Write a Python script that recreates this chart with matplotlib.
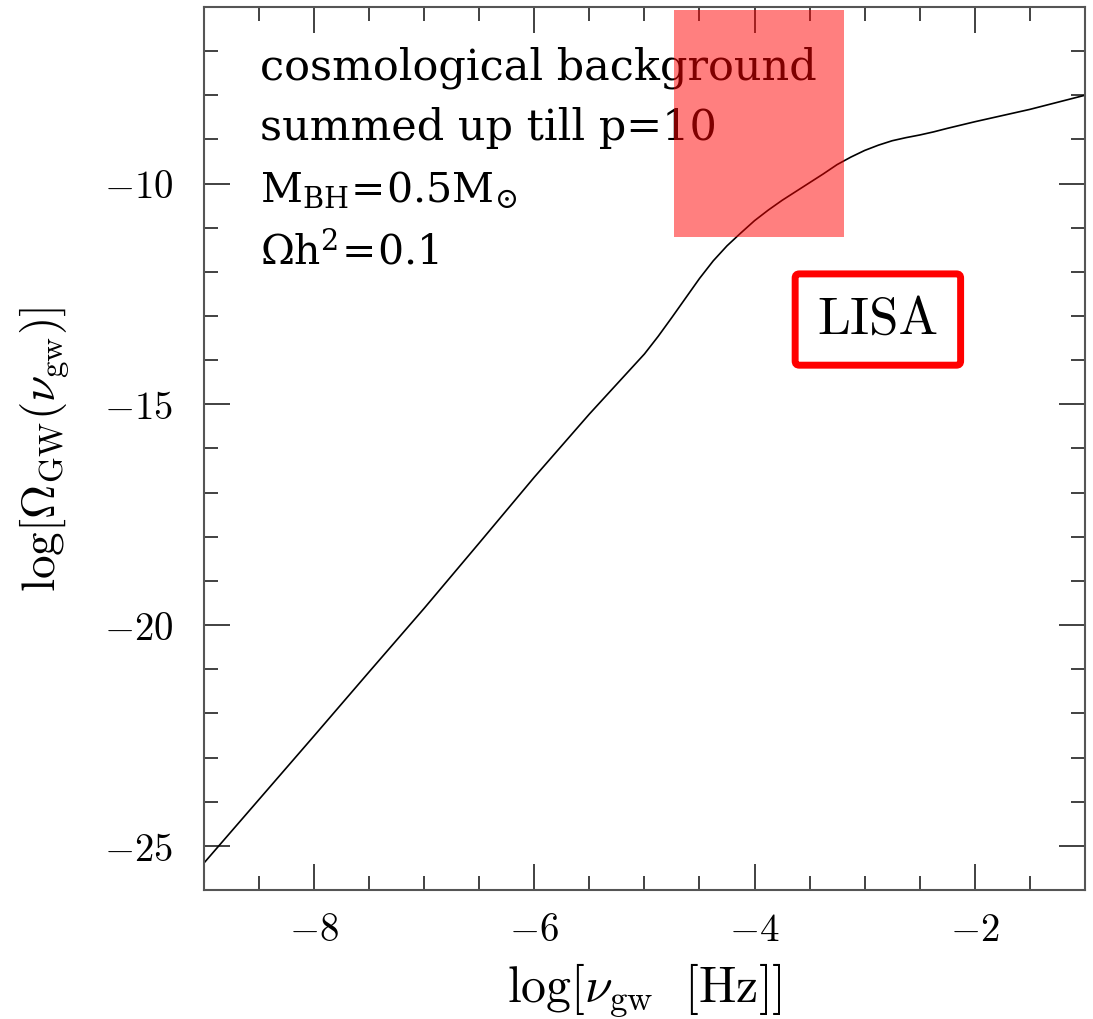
import matplotlib
matplotlib.use("Agg")
import matplotlib.pyplot as plt
import numpy as np
from matplotlib.patches import Rectangle

plt.rcParams['font.family'] = 'serif'
plt.rcParams['font.serif'] = ['cmr10']
plt.rcParams['mathtext.fontset'] = 'cm'
plt.rcParams['axes.formatter.use_mathtext'] = True
plt.rcParams['axes.unicode_minus'] = True

# spectrum of the cosmological background, log10 values
log_nu = [-9.0, -8.5, -8.0, -7.5, -7.0, -6.5, -6.0, -5.5, -5.0, -4.875,
          -4.75, -4.625, -4.5, -4.375, -4.25, -4.125, -4.0, -3.875, -3.75,
          -3.625, -3.5, -3.375, -3.25, -3.125, -3.0, -2.875, -2.75, -2.625,
          -2.5, -2.375, -2.25, -2.0, -1.75, -1.5, -1.25, -1.0]
log_omega = [-25.39, -23.95, -22.51, -21.06, -19.62, -18.14, -16.65, -15.22,
             -13.86, -13.46, -13.03, -12.59, -12.15, -11.75, -11.41, -11.12,
             -10.84, -10.60, -10.38, -10.18, -9.98, -9.78, -9.57, -9.40,
             -9.25, -9.13, -9.03, -8.96, -8.90, -8.83, -8.75, -8.60, -8.46,
             -8.32, -8.16, -8.0]

# LISA band
lisa_nu = (-4.73, -3.19)
lisa_omega = (-11.2, -6.08)

info = ["cosmological background",
        "summed up till p=10",
        r"$\mathrm{M_{BH}\!=\!0.5M_{\odot}}$",
        r"$\Omega\mathrm{h^{2}\!=\!0.1}$"]
info_size = [31, 31, 29.5, 29.5]

fig = plt.figure(figsize=(10.93, 10.2), dpi=100)
ax = fig.add_axes([0.1866, 0.1265, 0.806, 0.8657])

ax.plot(log_nu, log_omega, color='black', lw=1.2)

ax.add_patch(Rectangle((lisa_nu[0], lisa_omega[0]), lisa_nu[1] - lisa_nu[0],
                       lisa_omega[1] - lisa_omega[0], facecolor='red',
                       edgecolor='none', alpha=0.5, zorder=5))

ax.text(-2.88, -13.08, "LISA", fontsize=38, ha='center', va='center',
        bbox=dict(boxstyle='round,pad=0.42,rounding_size=0.08',
                  facecolor='white', edgecolor='red', lw=5))

ypos = [0.9185, 0.8505, 0.779, 0.709]
for s, fs, yy in zip(info, info_size, ypos):
    ax.text(0.0636, yy, s, transform=ax.transAxes, fontsize=fs,
            family='DejaVu Serif', math_fontfamily='dejavuserif',
            va='baseline', ha='left', zorder=2)

ax.set_xlim(-9, -1)
ax.set_ylim(-26, -6)
ax.set_xticks([-8, -6, -4, -2])
ax.set_yticks([-25, -20, -15, -10])
ax.set_xticks(np.arange(-8.5, -1, 0.5), minor=True)
ax.set_yticks(np.arange(-25, -6, 1.0), minor=True)
ax.tick_params(which='both', direction='in', top=True, right=True,
               color='#333333', width=1.3)
ax.tick_params(which='major', length=19, labelsize=28)
ax.tick_params(which='minor', length=10)
ax.tick_params(axis='x', pad=16)
ax.tick_params(axis='y', pad=22)
for sp in ax.spines.values():
    sp.set_color('#555555')
    sp.set_linewidth(1.5)

ax.set_xlabel(r"$\log[\nu_{\rm gw}\ \ [\rm Hz]]$", fontsize=36, labelpad=9)
ax.set_ylabel(r"$\log[\Omega_{\rm GW}(\nu_{\rm gw})]$", fontsize=34, labelpad=24)

fig.savefig("out.png", dpi=100)
